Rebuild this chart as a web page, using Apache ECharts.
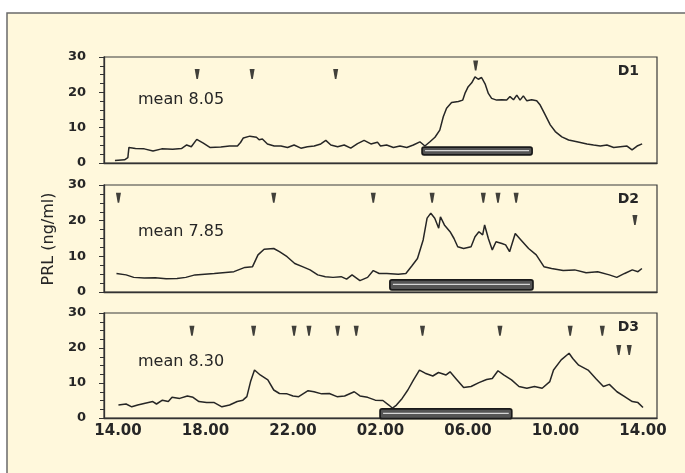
<!DOCTYPE html>
<html>
<head>
<meta charset="utf-8">
<script src="https://cdn.jsdelivr.net/npm/echarts@6/dist/echarts.min.js"></script>
<style>
  html, body { margin: 0; padding: 0; background: #ffffff; }
  #chart { width: 685px; height: 473px; }
</style>
</head>
<body>
<div id="chart"></div>
<script>
// ---- Data (hours after 14.00, PRL ng/ml) ----
var xTickHours = [0, 4, 8, 12, 16, 20, 24];
var xTickLabels = ['14.00', '18.00', '22.00', '02.00', '06.00', '10.00', '14.00'];
var panelNames = ['D1', 'D2', 'D3'];
var meanLabels = ['mean 8.05', 'mean 7.85', 'mean 8.30'];

var d1Hours = [-0.14,0.3,0.45,0.5,0.8,1.2,1.6,2.0,2.5,2.9,3.14,3.35,3.6,3.9,4.2,4.7,5.1,5.46,5.6,5.73,6.03,6.33,6.45,6.6,6.83,7.14,7.45,7.75,8.05,8.36,8.66,8.97,9.27,9.5,9.73,10.04,10.34,10.64,10.95,11.25,11.56,11.86,12.0,12.28,12.59,12.89,13.2,13.5,13.8,14.03,14.26,14.49,14.71,14.87,15.02,15.25,15.56,15.76,15.86,16.01,16.17,16.32,16.47,16.62,16.78,16.93,17.08,17.31,17.54,17.77,17.92,18.08,18.23,18.38,18.53,18.69,18.91,19.14,19.3,19.53,19.76,19.99,20.29,20.6,20.98,21.44,21.74,22.05,22.35,22.66,22.96,23.27,23.5,23.73,23.96];
var d1Values = [0.7,0.9,1.5,4.4,4.1,4.0,3.4,4.0,3.9,4.1,5.1,4.6,6.7,5.6,4.4,4.5,4.8,4.8,5.8,7.1,7.6,7.3,6.6,6.8,5.4,4.8,4.8,4.4,5.1,4.2,4.6,4.8,5.4,6.4,5.1,4.6,5.1,4.2,5.5,6.4,5.4,5.9,4.8,5.1,4.4,4.8,4.4,5.1,6.0,4.8,6.0,7.3,9.3,13.1,15.5,17.1,17.4,17.8,19.7,21.6,22.7,24.4,23.7,24.2,22.4,19.7,18.3,17.8,17.9,17.8,18.8,17.9,19.2,17.8,19.0,17.6,17.9,17.6,16.4,13.6,10.8,8.9,7.4,6.5,6.0,5.4,5.1,4.8,5.1,4.4,4.6,4.8,3.7,4.8,5.4];

var d2Hours = [-0.07,0.37,0.72,1.2,1.7,2.2,2.7,3.1,3.52,4.4,5.3,5.8,6.15,6.4,6.68,7.12,7.38,7.73,8.08,8.43,8.78,9.13,9.48,9.83,10.2,10.45,10.7,11.06,11.41,11.67,11.94,12.29,12.81,13.16,13.43,13.69,13.95,14.13,14.3,14.48,14.66,14.74,14.92,15.18,15.36,15.53,15.8,16.14,16.32,16.5,16.67,16.76,16.93,17.11,17.28,17.55,17.72,17.9,18.16,18.42,18.77,19.12,19.47,19.82,20.35,20.88,21.4,21.93,22.46,22.8,23.16,23.51,23.77,23.95];
var d2Values = [5.2,4.8,4.1,3.9,4.0,3.7,3.8,4.1,4.8,5.2,5.7,6.9,7.1,10.4,12.0,12.2,11.3,9.9,8.0,7.1,6.2,4.8,4.3,4.1,4.3,3.6,4.8,3.2,4.1,6.0,5.2,5.2,5.0,5.2,7.3,9.4,14.6,20.7,22.1,20.7,17.9,21.1,18.8,16.9,15.0,12.7,12.2,12.7,15.5,16.9,16.0,18.8,15.0,11.8,14.1,13.6,13.2,11.3,16.4,14.6,12.2,10.4,7.1,6.6,6.0,6.2,5.4,5.7,4.8,4.1,5.2,6.2,5.7,6.6];

var d3Hours = [0.02,0.37,0.63,0.9,1.24,1.59,1.76,2.03,2.3,2.47,2.82,3.17,3.43,3.7,4.05,4.4,4.75,5.1,5.45,5.71,5.89,6.06,6.24,6.5,6.85,7.12,7.38,7.73,8.0,8.26,8.69,8.96,9.31,9.66,10.01,10.36,10.8,11.06,11.41,11.76,12.11,12.38,12.55,12.73,12.99,13.25,13.51,13.78,14.04,14.39,14.65,15.0,15.18,15.44,15.8,16.14,16.5,16.85,17.11,17.37,17.63,17.99,18.33,18.69,19.04,19.39,19.74,19.91,20.26,20.62,20.79,21.06,21.49,21.84,22.19,22.46,22.81,23.16,23.51,23.77,24.0];
var d3Values = [3.7,4.0,3.2,3.7,4.2,4.7,4.0,5.1,4.7,5.9,5.6,6.3,5.9,4.7,4.4,4.4,3.2,3.7,4.7,5.1,6.1,10.4,13.7,12.3,10.9,8.0,7.0,6.9,6.3,6.1,7.8,7.5,6.9,7.0,6.1,6.3,7.5,6.3,5.9,5.1,5.0,3.7,2.8,3.7,5.6,8.0,10.9,13.7,12.8,12.0,13.0,12.3,13.2,11.3,8.7,9.0,10.1,11.0,11.3,13.5,12.3,10.9,9.0,8.5,9.0,8.5,10.4,13.7,16.6,18.5,17.0,15.1,13.7,11.3,9.0,9.6,7.5,6.1,4.7,4.4,3.0];

// pulse markers (hour, height)
var d1PulseHours = [3.62, 6.13, 9.95, 16.35];
var d1PulseValues = [25.2, 25.2, 25.2, 27.6];
var d2PulseHours = [0.02, 7.12, 11.67, 14.36, 16.7, 17.37, 18.2, 23.63];
var d2PulseValues = [26.4, 26.4, 26.4, 26.4, 26.4, 26.4, 26.4, 20.2];
var d3PulseHours = [3.38, 6.2, 8.05, 8.73, 10.04, 10.89, 13.92, 17.46, 20.67, 22.14, 22.89, 23.37];
var d3PulseValues = [24.9, 24.9, 24.9, 24.9, 24.9, 24.9, 24.9, 24.9, 24.9, 24.9, 19.4, 19.4];

// sleep period bars: [startHour, endHour, low, high]
var sleepBars = [
  [13.9, 18.93, 2.3, 4.5],
  [12.43, 18.97, 0.6, 3.4],
  [11.98, 18.0, -0.2, 2.6]
];

// ---- Build chart ----
var hoursSets = [d1Hours, d2Hours, d3Hours];
var valueSets = [d1Values, d2Values, d3Values];
var pulseH = [d1PulseHours, d2PulseHours, d3PulseHours];
var pulseV = [d1PulseValues, d2PulseValues, d3PulseValues];

function zip(a, b) { return a.map(function (v, i) { return [v, b[i]]; }); }

var gridTops = [57, 185, 313];
var gridHeights = [106, 107, 105];
var FONT = 'DejaVu Sans';
var INK = '#262626';

var grids = [], xAxes = [], yAxes = [], series = [], graphics = [];

graphics.push({
  type: 'rect', z: -100, silent: true,
  shape: { x: 7, y: 13, width: 720, height: 520 },
  style: { fill: '#FFF8DC', stroke: '#6a6a6a', lineWidth: 1.5 }
});

for (var i = 0; i < 3; i++) {
  grids.push({ left: 104, top: gridTops[i], width: 553, height: gridHeights[i],
    show: true, borderColor: '#3a3a3a', borderWidth: 1.2, backgroundColor: 'transparent' });
  xAxes.push({
    type: 'value', gridIndex: i, min: -0.64, max: 24.64,
    axisLine: { show: true, onZero: false, lineStyle: { color: '#333', width: 1.3 } },
    axisTick: { show: false },
    splitLine: { show: false },
    axisLabel: i === 2 ? {
      show: true, customValues: xTickHours, margin: 6,
      fontFamily: FONT, fontSize: 15, fontWeight: 'bold', color: INK,
      formatter: function (v) { var k = xTickHours.indexOf(Math.round(v)); return k >= 0 ? xTickLabels[k] : ''; }
    } : { show: false }
  });
  yAxes.push({
    type: 'value', gridIndex: i, min: 0, max: 30, interval: 10,
    axisLine: { show: true, onZero: false, lineStyle: { color: '#333', width: 1.3 } },
    axisTick: { show: true, length: 5, lineStyle: { color: '#333' } },
    minorTick: { show: true, splitNumber: 4, length: 4, lineStyle: { color: '#333' } },
    splitLine: { show: false },
    axisLabel: { margin: 18, fontFamily: FONT, fontSize: 13, fontWeight: 'bold', color: INK }
  });
  series.push({
    type: 'line', xAxisIndex: i, yAxisIndex: i, data: zip(hoursSets[i], valueSets[i]),
    showSymbol: false, symbol: 'none', smooth: false,
    lineStyle: { color: '#262626', width: 1.5 }, z: 3
  });
  series.push({
    type: 'scatter', xAxisIndex: i, yAxisIndex: i, data: zip(pulseH[i], pulseV[i]),
    symbol: 'path://M0,0 L10,0 L6.5,24 L3.5,24 Z', symbolSize: [5, 10],
    itemStyle: { color: '#111' }, z: 4
  });
  series.push({
    type: 'custom', xAxisIndex: i, yAxisIndex: i, data: [sleepBars[i]],
    encode: { x: [0, 1], y: [2, 3] }, clip: false, z: 5,
    renderItem: function (params, api) {
      var p1 = api.coord([api.value(0), api.value(3)]);
      var p2 = api.coord([api.value(1), api.value(2)]);
      var x = p1[0], y = p1[1], w = p2[0] - p1[0], h = p2[1] - p1[1];
      return { type: 'group', children: [
        { type: 'rect', shape: { x: x, y: y, width: w, height: h, r: 2 },
          style: { fill: '#555', stroke: '#1a1a1a', lineWidth: 1.7 } },
        { type: 'line', shape: { x1: x + 3, y1: y + h * 0.45, x2: x + w - 3, y2: y + h * 0.45 },
          style: { stroke: '#d6d6d6', lineWidth: 1.2 } }
      ] };
    }
  });
  graphics.push({
    type: 'text', x: 138, y: gridTops[i] + [43, 47, 49][i], z: 10,
    style: { text: meanLabels[i], fill: INK, font: '16px "DejaVu Sans"', textVerticalAlign: 'middle' }
  });
  graphics.push({
    type: 'text', x: 639, y: gridTops[i] + 14, z: 10,
    style: { text: panelNames[i], fill: INK, font: 'bold 14px "DejaVu Sans"', textAlign: 'right', textVerticalAlign: 'middle' }
  });
}

graphics.push({
  type: 'text', x: 49, y: 239, rotation: Math.PI / 2, z: 10,
  style: { text: 'PRL (ng/ml)', fill: INK, font: '16px "DejaVu Sans"', textAlign: 'center', textVerticalAlign: 'middle' }
});

var chart = echarts.init(document.getElementById('chart'), null, { renderer: 'canvas' });
chart.setOption({
  animation: false,
  backgroundColor: 'transparent',
  grid: grids, xAxis: xAxes, yAxis: yAxes, series: series,
  graphic: graphics
});
</script>
</body>
</html>
